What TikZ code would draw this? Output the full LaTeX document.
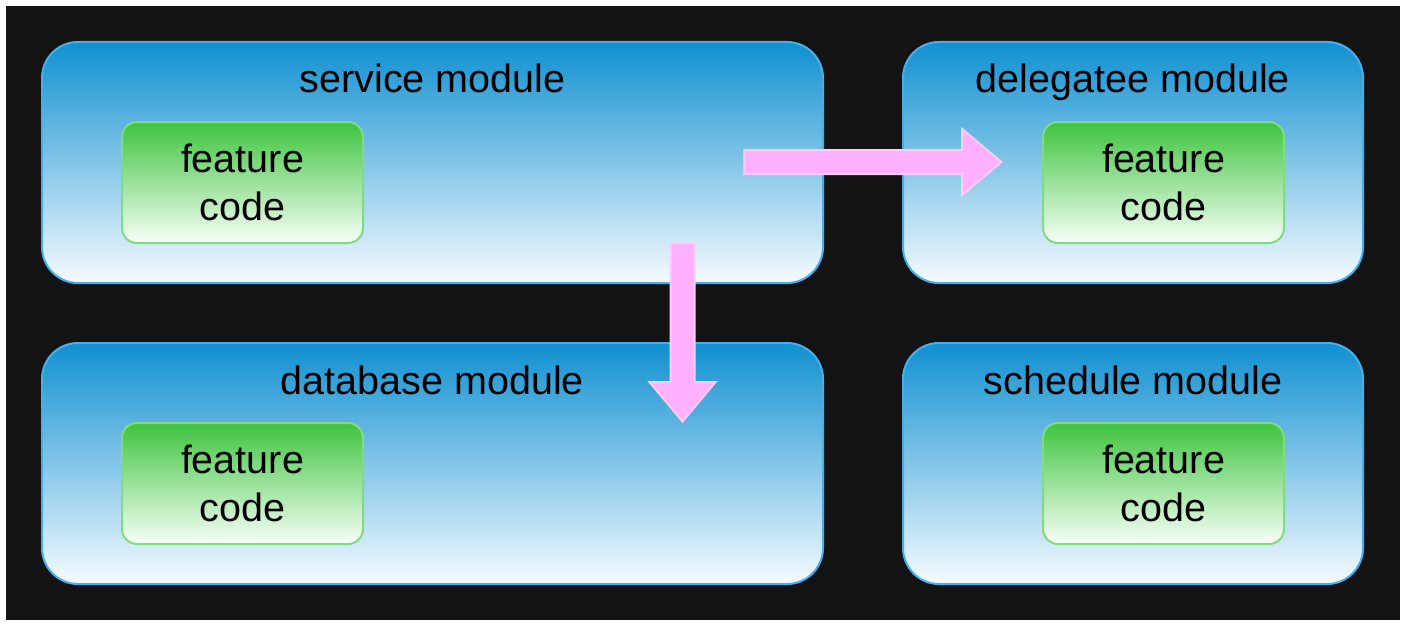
\documentclass[tikz,border=0pt]{standalone}
\usepackage{fontspec}
\setmainfont{Liberation Sans}
\usepackage{tikz}
\usetikzlibrary{positioning, shapes.arrows}
\definecolor{backdrop}{HTML}{131313}
\definecolor{moduletop}{HTML}{1090D0}
\definecolor{modulebot}{HTML}{F6FBFF}
\definecolor{moduleline}{HTML}{45B0F0}
\definecolor{codetop}{HTML}{3EC43E}
\definecolor{codebot}{HTML}{F8FFF8}
\definecolor{codeline}{HTML}{80DC80}
\definecolor{pushfill}{HTML}{FFB0FF}
\definecolor{pushline}{HTML}{FFCCFF}

\begin{document}
\begin{tikzpicture}[x=1pt, y=1pt,
    module/.style={draw=moduleline, line width=1pt, outer sep=0pt, rounded corners=18pt, top color=moduletop, bottom color=modulebot, minimum height=120.5pt},
    code/.style={draw=codeline, line width=1pt, outer sep=0pt, rounded corners=7.5pt, top color=codetop, bottom color=codebot, minimum width=120.5pt, minimum height=60.5pt, align=center, inner sep=0pt},
    title/.style={anchor=base},
    push/.style={single arrow, draw=pushline, fill=pushfill, line width=1pt, inner sep=0pt, inner ysep=5.5pt, single arrow head extend=10.5pt, single arrow tip angle=80, anchor=tip},
    node distance=30pt and 40pt,
    font=\fontsize{19.75}{24}\selectfont]
    \fill[white] (0,0) rectangle (703,-313);
    \fill[backdrop] (3,-3) rectangle (700,-310);

    \node(service)[module, minimum width=390.5pt] at (216.25,-81.25) {};
    \node(delegatee)[module, minimum width=230pt, right=of service] {};
    \node(database)[module, minimum width=390.5pt, below=of service] {};
    \node(schedule)[module, minimum width=230pt, below=of delegatee] {};

    \node(service-title)[title, below=25.5pt of service.north, anchor=base] {service module};
    \node(delegatee-title)[title, below=25.5pt of delegatee.north, anchor=base] {delegatee module};
    \node(database-title)[title, below=25.5pt of database.north, anchor=base] {database module};
    \node(schedule-title)[title, below=25.5pt of schedule.north, anchor=base] {schedule module};

    \node(service-code)[code, right=40pt of service.west, yshift=-10pt] {feature \\ code};
    \node(delegatee-code)[code, right=70pt of delegatee.west, yshift=-10pt] {feature \\ code};
    \node(database-code)[code, right=40pt of database.west, yshift=-10pt] {feature \\ code};
    \node(schedule-code)[code, right=70pt of schedule.west, yshift=-10pt] {feature \\ code};

    \node(to-delegatee)[push, minimum height=128.5pt] at (501.5,-81) {};
    \node(to-database)[push, minimum height=89pt, rotate=-90] at (341.25,-211.5) {};
\end{tikzpicture}
\end{document}
